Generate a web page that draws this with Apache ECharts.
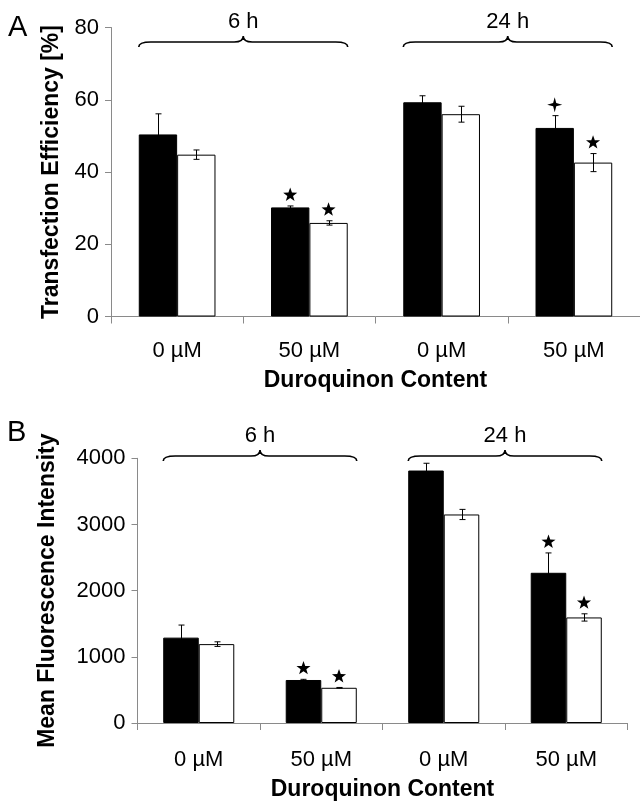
<!DOCTYPE html>
<html>
<head>
<meta charset="utf-8">
<script src="https://cdn.jsdelivr.net/npm/echarts@6/dist/echarts.min.js"></script>
<style>html,body{margin:0;padding:0;background:#fff}#c{width:640px;height:802px}</style>
</head>
<body>
<div id="c"></div>
<script>
// ---------------- data ----------------
const categories = ['0 µM', '50 µM', '0 µM', '50 µM'];
const timeGroups = ['6 h', '24 h'];
const groupStart = [0, 2];
const groupEnd = [1, 3];

// Panel A: Transfection Efficiency [%]
const effBlack = [50.4, 30.2, 59.3, 52.2];
const effBlackErr = [5.7, 0.4, 1.8, 3.4];
const effWhite = [44.8, 25.9, 56.0, 42.6];
const effWhiteErr = [1.3, 0.6, 2.2, 2.5];
const effBlackMark = [0, 1, 0, 2];   // 1 = ★, 2 = ✦
const effWhiteMark = [0, 1, 0, 1];
const effTicks = [0, 20, 40, 60, 80];

// Panel B: Mean Fluorescence Intensity
const mfiBlack = [1290, 650, 3815, 2270];
const mfiBlackErr = [190, 10, 110, 300];
const mfiWhite = [1192, 532, 3151, 1595];
const mfiWhiteErr = [35, 5, 77, 55];
const mfiBlackMark = [0, 1, 0, 1];
const mfiWhiteMark = [0, 1, 0, 1];
const mfiTicks = [0, 1000, 2000, 3000, 4000];

const braceLevelA = 76;
const braceLevelB = 4034;

// ---------------- helpers ----------------
const FONT = '"Liberation Sans", Arial, Helvetica, sans-serif';
const CAT_GAP = 0.42;
const AXIS_GREY = '#8a8a8a';

function barW(api) { return api.size([1, 0])[0] * (1 - CAT_GAP) / 2; }

function errData(vals, errs, side) {
  return vals.map((v, i) => [i, v, errs[i], side]);
}
function markData(vals, errs, marks, side) {
  const out = [];
  vals.forEach((v, i) => { if (marks[i]) out.push([i, v + errs[i], marks[i], side]); });
  return out;
}
function braceData(level) {
  return groupStart.map((s, i) => [s, groupEnd[i], level, i]);
}

function renderErr(params, api) {
  const idx = api.value(0), v = api.value(1), e = api.value(2), side = api.value(3);
  const bw = barW(api);
  const x = Math.round(api.coord([idx, v])[0] + side * bw / 2) + 0.5;
  const top = api.coord([idx, v + e])[1];
  const bot = api.coord([idx, v - e])[1];
  const st = { stroke: '#000', lineWidth: 1 };
  return { type: 'group', children: [
    { type: 'line', shape: { x1: x, y1: top, x2: x, y2: bot }, style: st },
    { type: 'line', shape: { x1: x - 3, y1: top, x2: x + 3, y2: top }, style: st },
    { type: 'line', shape: { x1: x - 3, y1: bot, x2: x + 3, y2: bot }, style: st }
  ]};
}

function starPoints(cx, cy, n, ro, ri) {
  const pts = [];
  for (let k = 0; k < n * 2; k++) {
    const a = -Math.PI / 2 + k * Math.PI / n;
    const r = k % 2 ? ri : ro;
    pts.push([cx + r * Math.cos(a), cy + r * Math.sin(a)]);
  }
  return pts;
}

function renderMark(params, api) {
  const idx = api.value(0), v = api.value(1), type = api.value(2), side = api.value(3);
  const bw = barW(api);
  const p = api.coord([idx, v]);
  const x = p[0] + side * bw / 2;
  const y = p[1] - 11;
  const pts = type === 2 ? starPoints(x, y, 4, 7.5, 2.2) : starPoints(x, y, 5, 7.4, 3.0);
  return { type: 'polygon', shape: { points: pts }, style: { fill: '#000' } };
}

function renderBrace(params, api) {
  const s = api.value(0), e = api.value(1), lvl = api.value(2);
  const bw = barW(api);
  const p1 = api.coord([s, lvl]);
  const p2 = api.coord([e, lvl]);
  const x1 = p1[0] - bw, x2 = p2[0] + bw, y = p1[1];
  const xm = (x1 + x2) / 2;
  const yEnd = y + 5, yTip = y - 6, r = 12, rm = 9;
  const path = `M${x1},${yEnd} Q${x1},${y} ${x1 + r},${y} L${xm - rm},${y} Q${xm},${y} ${xm},${yTip} Q${xm},${y} ${xm + rm},${y} L${x2 - r},${y} Q${x2},${y} ${x2},${yEnd}`;
  return { type: 'group', children: [
    { type: 'path', shape: { pathData: path }, style: { stroke: '#000', lineWidth: 1.6, fill: null } },
    { type: 'text', style: { text: timeGroups[params.dataIndex], x: xm, y: y - 20,
        textAlign: 'center', textVerticalAlign: 'middle', font: '22px ' + FONT, fill: '#000' } }
  ]};
}

function xAxisCfg(gridIndex, margin, nameGap) {
  return {
    type: 'category', gridIndex, data: categories,
    axisLine: { lineStyle: { color: AXIS_GREY, width: 1 } },
    axisTick: { show: true, length: 7, lineStyle: { color: AXIS_GREY } },
    axisLabel: { color: '#000', fontSize: 22, fontFamily: FONT, margin },
    name: 'Duroquinon Content', nameLocation: 'middle', nameGap,
    nameTextStyle: { color: '#000', fontSize: 23, fontWeight: 'bold', fontFamily: FONT }
  };
}
function yAxisCfg(gridIndex, ticks, name, nameGap) {
  return {
    type: 'value', gridIndex, min: ticks[0], max: ticks[ticks.length - 1],
    interval: ticks[1] - ticks[0],
    axisLine: { show: true, lineStyle: { color: AXIS_GREY, width: 1 } },
    axisTick: { show: true, length: 6, lineStyle: { color: AXIS_GREY } },
    axisLabel: { color: '#000', fontSize: 22, fontFamily: FONT, margin: 12,
      formatter: (v) => String(v) },
    splitLine: { show: false },
    name, nameLocation: 'middle', nameGap,
    nameTextStyle: { color: '#000', fontSize: 23, fontWeight: 'bold', fontFamily: FONT }
  };
}

function barSeries(xi, data, fill) {
  return {
    type: 'bar', xAxisIndex: xi, yAxisIndex: xi, data,
    barGap: '0%', barCategoryGap: (CAT_GAP * 100) + '%',
    itemStyle: { color: fill, borderColor: '#000', borderWidth: 1 },
    silent: true
  };
}
function customSeries(xi, data, renderItem, encodeY) {
  return {
    type: 'custom', xAxisIndex: xi, yAxisIndex: xi, data, renderItem,
    encode: { x: 0, y: encodeY }, clip: false, silent: true, z: 5
  };
}

const chart = echarts.init(document.getElementById('c'), null, { renderer: 'canvas' });
chart.setOption({
  animation: false,
  backgroundColor: '#fff',
  grid: [
    { left: 111, right: -3, top: 27.5, height: 289 },
    { left: 137.5, right: 12.5, top: 458.3, height: 270.7 }
  ],
  xAxis: [xAxisCfg(0, 23, 53), xAxisCfg(1, 26, 55)],
  yAxis: [
    yAxisCfg(0, effTicks, 'Transfection Efficiency [%]', 47),
    yAxisCfg(1, mfiTicks, 'Mean Fluorescence Intensity', 78)
  ],
  graphic: [
    { type: 'text', left: 8, top: 13, style: { text: 'A', font: '29px ' + FONT, fill: '#000' } },
    { type: 'text', left: 7, top: 418, style: { text: 'B', font: '29px ' + FONT, fill: '#000' } }
  ],
  series: [
    barSeries(0, effBlack, '#000'),
    barSeries(0, effWhite, '#fff'),
    customSeries(0, errData(effBlack, effBlackErr, -1), renderErr, 1),
    customSeries(0, errData(effWhite, effWhiteErr, 1), renderErr, 1),
    customSeries(0, markData(effBlack, effBlackErr, effBlackMark, -1), renderMark, 1),
    customSeries(0, markData(effWhite, effWhiteErr, effWhiteMark, 1), renderMark, 1),
    customSeries(0, braceData(braceLevelA), renderBrace, 2),
    barSeries(1, mfiBlack, '#000'),
    barSeries(1, mfiWhite, '#fff'),
    customSeries(1, errData(mfiBlack, mfiBlackErr, -1), renderErr, 1),
    customSeries(1, errData(mfiWhite, mfiWhiteErr, 1), renderErr, 1),
    customSeries(1, markData(mfiBlack, mfiBlackErr, mfiBlackMark, -1), renderMark, 1),
    customSeries(1, markData(mfiWhite, mfiWhiteErr, mfiWhiteMark, 1), renderMark, 1),
    customSeries(1, braceData(braceLevelB), renderBrace, 2)
  ]
});
</script>
</body>
</html>
